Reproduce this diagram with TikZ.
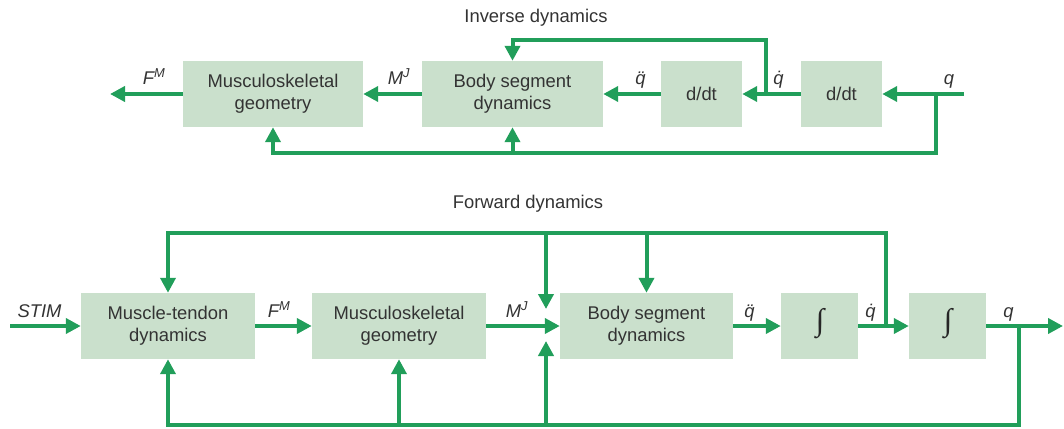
\documentclass[tikz,border=0pt]{standalone}
\usepackage{fontspec}
\setmainfont{Liberation Sans}
\newfontfamily\intfont{Liberation Serif}
\usetikzlibrary{arrows.meta}
\definecolor{lgreen}{RGB}{33,158,90}
\definecolor{boxfill}{RGB}{202,224,204}
\definecolor{txt}{RGB}{51,51,51}
\newcommand\qdt{\ooalign{\textit{q}\cr\hidewidth\textit{\char"02D9}\hidewidth\cr}}
\newcommand\qddt{\ooalign{\textit{q}\cr\hidewidth\textit{\char"00A8}\hidewidth\cr}}
\begin{document}
\begin{tikzpicture}[x=1pt,y=-1pt,
  font=\fontsize{18.4}{22}\selectfont, text=txt,
  blk/.style={fill=boxfill, minimum height=66pt, inner sep=0pt, align=center, anchor=center},
  flow/.style={draw=lgreen, line width=4pt, -{Triangle[length=15pt,width=15pt]}},
  wire/.style={draw=lgreen, line width=4pt},
  sig/.style={anchor=base, font=\fontsize{18.4}{22}\selectfont\itshape},
  ttl/.style={anchor=base},
  intg/.style={text=black!85, font=\intfont\fontsize{31}{31}\selectfont, anchor=center}]
\useasboundingbox (0,0) rectangle (1064,428);

% ---------- Inverse dynamics ----------
\node[ttl] (tinv) at (536,23) {Inverse dynamics};
\node[blk, minimum width=180pt] (imsg) at (273,94) {Musculoskeletal\\geometry};
\node[blk, minimum width=181pt] (ibsd) at (512.5,94) {Body segment\\dynamics};
\node[blk, minimum width=81pt] (idd1) at (701.5,94) {d/dt};
\node[blk, minimum width=81pt] (idd2) at (841.5,94) {d/dt};

\coordinate (iqin) at (964,94);
\coordinate (ibr) at (936,94);
\coordinate (iqd) at (766,94);
\coordinate (ifout) at (110,94);

\draw[flow] (iqin) -- (idd2.east);
\draw[flow] (idd2.west) -- (idd1.east);
\draw[flow] (idd1.west) -- (ibsd.east);
\draw[flow] (ibsd.west) -- (imsg.east);
\draw[flow] (imsg.west) -- (ifout);
\draw[flow] (iqd) |- (ibsd.north |- 0,40) -- (ibsd.north);
\draw[flow] (ibr) |- (imsg.south |- 0,153) -- (imsg.south);
\draw[flow] (ibsd.south |- 0,153) -- (ibsd.south);

\node[sig] (ilfm) at (154,84) {F\textsuperscript{M}};
\node[sig] (ilmj) at (399,84) {M\textsuperscript{J}};
\node[sig] (ilqdd) at (640.5,84) {\qddt};
\node[sig] (ilqd) at (778.5,84) {\qdt};
\node[sig] (ilq) at (949,84) {q};

% ---------- Forward dynamics ----------
\node[ttl] (tfwd) at (528,208) {Forward dynamics};
\node[blk, minimum width=174pt] (mtd) at (168,326) {Muscle-tendon\\dynamics};
\node[blk, minimum width=174pt] (fmsg) at (399,326) {Musculoskeletal\\geometry};
\node[blk, minimum width=173pt] (fbsd) at (646.5,326) {Body segment\\dynamics};
\node[blk, minimum width=77pt] (int1) at (819.5,326) {};
\node[blk, minimum width=77pt] (int2) at (947.5,326) {};
\node[intg] (int1s) at (820,324) {∫};
\node[intg] (int2s) at (948,324) {∫};

\coordinate (stim) at (10,326);
\coordinate (fqout) at (1063,326);
\coordinate (fqd) at (886,326);
\coordinate (fq) at (1019,326);
\coordinate (mjtop) at (546,309);
\coordinate (mjbot) at (546,341);

\draw[flow] (stim) -- (mtd.west);
\draw[flow] (mtd.east) -- (fmsg.west);
\draw[flow] (fmsg.east) -- (fbsd.west);
\draw[flow] (fbsd.east) -- (int1.west);
\draw[flow] (int1.east) -- (int2.west);
\draw[flow] (int2.east) -- (fqout);

\draw[flow] (fqd) |- (mtd.north |- 0,233) -- (mtd.north);
\draw[flow] (mjtop |- 0,233) -- (mjtop);
\draw[flow] (fbsd.north |- 0,233) -- (fbsd.north);
\draw[flow] (fq) |- (mtd.south |- 0,425) -- (mtd.south);
\draw[flow] (fmsg.south |- 0,425) -- (fmsg.south);
\draw[flow] (mjbot |- 0,425) -- (mjbot);

\node[sig] (flstim) at (39.5,317) {STIM};
\node[sig] (flfm) at (279,317) {F\textsuperscript{M}};
\node[sig] (flmj) at (517,317) {M\textsuperscript{J}};
\node[sig] (flqdd) at (749.5,317) {\qddt};
\node[sig] (flqd) at (870.5,317) {\qdt};
\node[sig] (flq) at (1008.5,317) {q};
\end{tikzpicture}
\end{document}
